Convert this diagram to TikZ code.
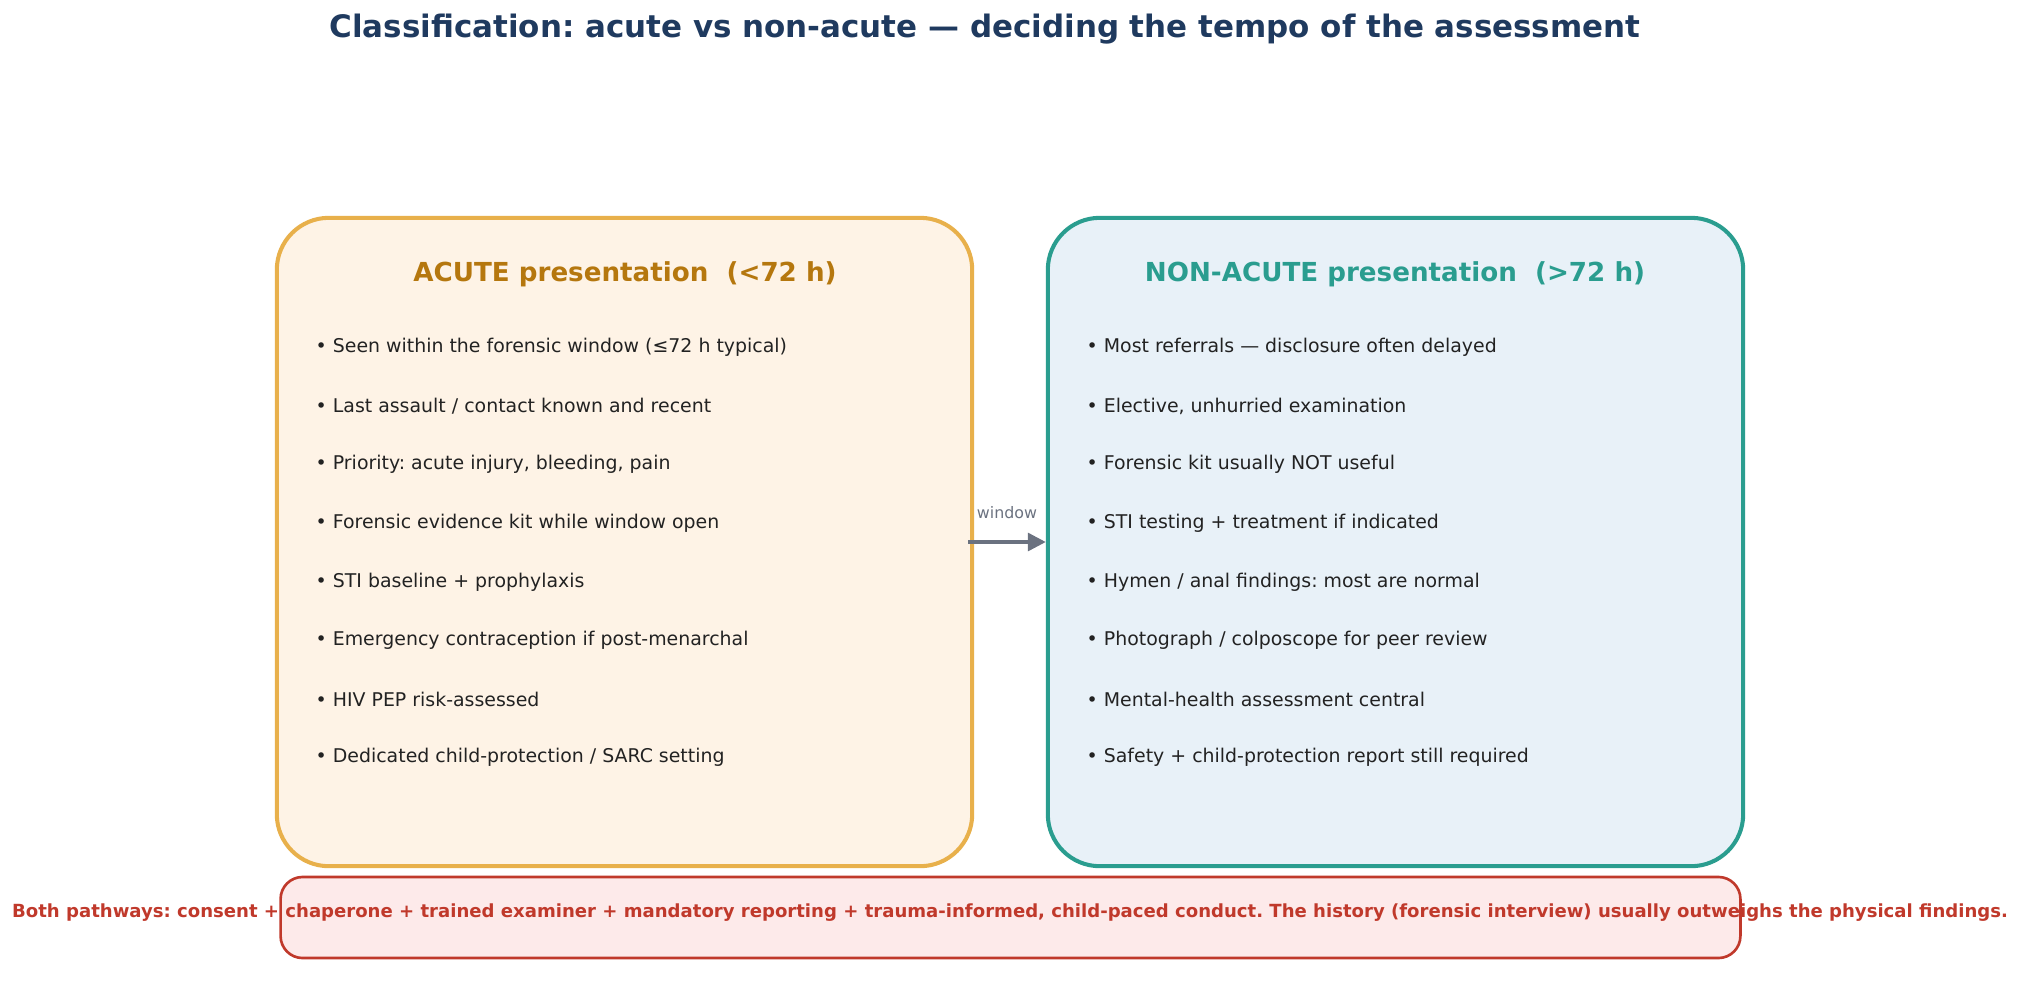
\documentclass[tikz,border=0pt]{standalone}
\usepackage{fontspec}
\setmainfont{DejaVu Sans}
\usetikzlibrary{arrows.meta}
\frenchspacing
\definecolor{titlec}{HTML}{1F3A5F}
\definecolor{acuteB}{HTML}{E8B04B}
\definecolor{acuteF}{HTML}{FEF3E6}
\definecolor{acuteT}{HTML}{B5770E}
\definecolor{nonB}{HTML}{2A9D8F}
\definecolor{nonF}{HTML}{E8F1F8}
\definecolor{botB}{HTML}{C0392B}
\definecolor{botF}{HTML}{FDEAEA}
\definecolor{bodyc}{HTML}{222222}
\definecolor{arrc}{HTML}{6B7280}
\tikzset{
  panel/.style={rounded corners=0.52cm, line width=1.15pt, minimum width=6.95cm, minimum height=6.48cm, inner sep=0pt},
  heading/.style={font=\fontsize{7.44}{9}\selectfont\bfseries, anchor=center, inner sep=0pt},
  bullet/.style={font=\fontsize{5.38}{6.5}\selectfont, text=bodyc, anchor=west, inner sep=0pt},
  arr/.style={-{Triangle[length=0.18cm,width=0.18cm]}, line width=0.95pt, draw=arrc},
}
\begin{document}
\begin{tikzpicture}[x=0.01cm,y=-0.01cm]
\useasboundingbox (0,0) rectangle (2020,984);
\node[font=\fontsize{8.8}{10.5}\selectfont\bfseries, text=titlec, inner sep=0pt] (title) at (985,29.5) {Classification: acute vs non-acute — deciding the tempo of the assessment};
\node[panel, draw=acuteB, fill=acuteF] (acute) at (624.5,542) {};
\node[panel, draw=nonB, fill=nonF] (non) at (1395.5,542) {};
\node[heading, text=acuteT] (ah) at (625,274.5) {ACUTE presentation\ \ (<72 h)};
\node[heading, text=nonB] (nh) at (1395,274.5) {NON-ACUTE presentation\ \ (>72 h)};
\foreach \t [count=\i from 0] in {%
  {• Seen within the forensic window (≤72 h typical)},
  {• Last assault / contact known and recent},
  {• Priority: acute injury, bleeding, pain},
  {• Forensic evidence kit while window open},
  {• STI baseline + prophylaxis},
  {• Emergency contraception if post-menarchal},
  {• HIV PEP risk-assessed},
  {• Dedicated child-protection / SARC setting}}
  \node[bullet] (a\i) at (315,347.5+58.6*\i) {\t};
\foreach \t [count=\i from 0] in {%
  {• Most referrals — disclosure often delayed},
  {• Elective, unhurried examination},
  {• Forensic kit usually NOT useful},
  {• STI testing + treatment if indicated},
  {• Hymen / anal findings: most are normal},
  {• Photograph / colposcope for peer review},
  {• Mental-health assessment central},
  {• Safety + child-protection report still required}}
  \node[bullet] (n\i) at (1086,347.5+58.6*\i) {\t};
\draw[arr] ([xshift=-0.06cm]acute.east) -- (non.west) node[midway, above=0.22cm, font=\fontsize{4.5}{5.5}\selectfont, text=arrc, inner sep=0pt] {window};
\node[rounded corners=0.22cm, draw=botB, fill=botF, line width=0.75pt, minimum width=14.59cm, minimum height=0.81cm, inner sep=0pt] (bot) at (1010.5,917.5) {};
\node[font=\fontsize{5.14}{6.2}\selectfont\bfseries, text=botB, inner sep=0pt] (bt) at (1010,913) {Both pathways: consent + chaperone + trained examiner + mandatory reporting + trauma-informed, child-paced conduct. The history (forensic interview) usually outweighs the physical findings.};
\end{tikzpicture}
\end{document}
